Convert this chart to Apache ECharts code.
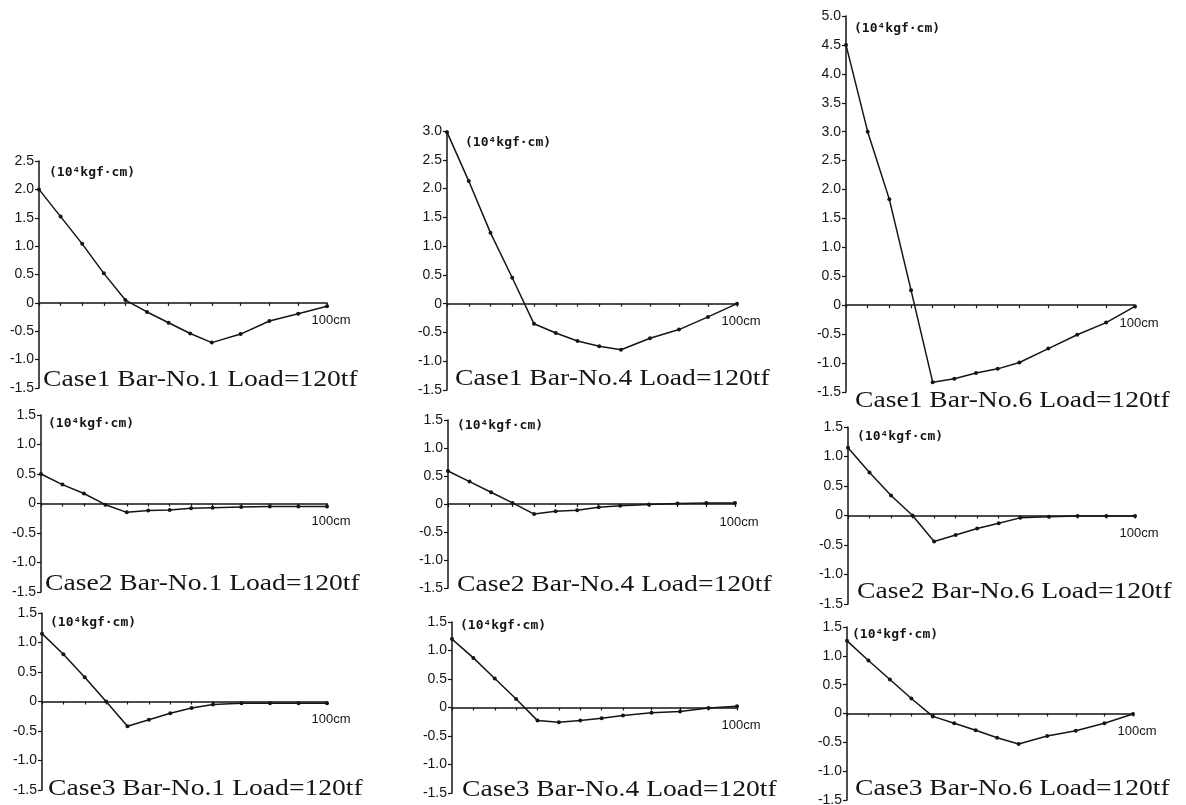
<!DOCTYPE html>
<html>
<head>
<meta charset="utf-8">
<script src="https://cdn.jsdelivr.net/npm/echarts@6/dist/echarts.min.js"></script>
<style>
  html, body { margin: 0; padding: 0; background: #fff; }
  #chart-container { width: 1186px; height: 805px; }
</style>
</head>
<body>
<div id="chart-container"></div>
<script>
// measuring points along the bar (cm)
var positions = [0, 7.5, 15, 22.5, 30, 37.5, 45, 52.5, 60, 70, 80, 90, 100];

// bending moment, 10^4 kgf.cm
var case1Bar1 = [2.0, 1.52, 1.04, 0.52, 0.05, -0.16, -0.35, -0.54, -0.70, -0.55, -0.32, -0.19, -0.06];
var case1Bar4 = [2.98, 2.13, 1.23, 0.45, -0.35, -0.51, -0.65, -0.74, -0.80, -0.60, -0.45, -0.23, 0.0];
var case1Bar6 = [4.5, 3.0, 1.83, 0.26, -1.33, -1.27, -1.17, -1.10, -0.99, -0.75, -0.51, -0.30, -0.02];
var case2Bar1 = [0.50, 0.32, 0.17, -0.02, -0.15, -0.12, -0.11, -0.08, -0.07, -0.06, -0.05, -0.05, -0.05];
var case2Bar4 = [0.59, 0.40, 0.21, 0.02, -0.18, -0.13, -0.11, -0.06, -0.03, -0.01, 0.01, 0.02, 0.02];
var case2Bar6 = [1.15, 0.73, 0.34, 0.0, -0.44, -0.33, -0.22, -0.13, -0.04, -0.02, -0.01, -0.01, -0.01];
var case3Bar1 = [1.15, 0.80, 0.41, 0.0, -0.42, -0.31, -0.20, -0.11, -0.05, -0.03, -0.03, -0.03, -0.03];
var case3Bar4 = [1.20, 0.87, 0.51, 0.15, -0.23, -0.26, -0.23, -0.19, -0.14, -0.09, -0.07, -0.01, 0.02];
var case3Bar6 = [1.26, 0.92, 0.59, 0.26, -0.05, -0.17, -0.29, -0.42, -0.53, -0.39, -0.30, -0.17, -0.01];

var allSeries = [case1Bar1, case1Bar4, case1Bar6, case2Bar1, case2Bar4, case2Bar6, case3Bar1, case3Bar4, case3Bar6];
var titles = [
  'Case1 Bar-No.1 Load=120tf', 'Case1 Bar-No.4 Load=120tf', 'Case1 Bar-No.6 Load=120tf',
  'Case2 Bar-No.1 Load=120tf', 'Case2 Bar-No.4 Load=120tf', 'Case2 Bar-No.6 Load=120tf',
  'Case3 Bar-No.1 Load=120tf', 'Case3 Bar-No.4 Load=120tf', 'Case3 Bar-No.6 Load=120tf'
];
var yMax = [2.5, 3.0, 5.0, 1.5, 1.5, 1.5, 1.5, 1.5, 1.5];
var yMin = -1.5;
var yStep = 0.5;
var unitText = '(10\u2074kgf\u00b7cm)';
var endText = '100cm';

// panel layout in pixels: plot box, unit label offset, caption start/baseline
var panels = [
  { l: 39,  r: 327,  t: 161, b: 388, unit: [10, 12], cap: [43, 388] },
  { l: 447, r: 737,  t: 131, b: 390, unit: [18, 12], cap: [455, 387] },
  { l: 846, r: 1135, t: 16,  b: 392, unit: [8, 13],  cap: [855, 409] },
  { l: 41,  r: 327,  t: 415, b: 592, unit: [7, 9],   cap: [45, 592] },
  { l: 448, r: 735,  t: 420, b: 588, unit: [9, 6],   cap: [457, 593] },
  { l: 848, r: 1135, t: 427, b: 604, unit: [9, 10],  cap: [857, 600] },
  { l: 42,  r: 327,  t: 613, b: 790, unit: [8, 10],  cap: [48, 797] },
  { l: 452, r: 737,  t: 622, b: 793, unit: [8, 4],   cap: [462, 798] },
  { l: 847, r: 1133, t: 627, b: 800, unit: [5, 8],   cap: [855, 797] }
];

var ink = '#151515';
var grids = [], xAxes = [], yAxes = [], series = [], graphics = [];

panels.forEach(function (p, i) {
  grids.push({
    left: p.l, top: p.t, width: p.r - p.l, height: p.b - p.t,
    containLabel: false, outerBoundsMode: 'none'
  });
  xAxes.push({
    type: 'value', gridIndex: i, min: 0, max: 100,
    axisLine: { onZero: true, lineStyle: { color: ink, width: 1.5 } },
    axisTick: { show: true, length: 3, customValues: positions, lineStyle: { color: ink, width: 1.2 } },
    axisLabel: { show: false },
    splitLine: { show: false }
  });
  yAxes.push({
    type: 'value', gridIndex: i, min: yMin, max: yMax[i], interval: yStep,
    axisLine: { show: true, onZero: false, lineStyle: { color: ink, width: 1.5 } },
    axisTick: { show: true, length: 4, lineStyle: { color: ink, width: 1.2 } },
    axisLabel: {
      color: ink, fontSize: 14, margin: 5, fontFamily: 'Liberation Sans',
      formatter: function (v) { return v === 0 ? '0' : v.toFixed(1); }
    },
    splitLine: { show: false }
  });
  series.push({
    type: 'line', xAxisIndex: i, yAxisIndex: i,
    data: positions.map(function (x, k) { return [x, allSeries[i][k]]; }),
    symbol: 'circle', symbolSize: 4, showSymbol: true,
    lineStyle: { color: ink, width: 1.5 },
    itemStyle: { color: ink },
    animation: false
  });
  graphics.push({
    type: 'text', x: p.l + p.unit[0], y: p.t + p.unit[1],
    style: {
      text: unitText, x: 0, y: 0, fill: ink,
      font: 'bold 13px "DejaVu Sans Mono"', textAlign: 'left', textVerticalAlign: 'middle'
    }
  });
  graphics.push({
    type: 'text', x: p.cap[0], y: p.cap[1] - 8, scaleX: 1.15,
    style: {
      text: titles[i], x: 0, y: 0, fill: ink,
      font: '24px "Liberation Serif"', textAlign: 'left', textVerticalAlign: 'middle'
    }
  });
});

var dom = document.getElementById('chart-container');
var myChart = echarts.init(dom, null, { renderer: 'canvas' });

var option = {
  backgroundColor: '#fff',
  animation: false,
  grid: grids,
  xAxis: xAxes,
  yAxis: yAxes,
  series: series,
  graphic: graphics
};

myChart.setOption(option);

// "100cm" sits just under the end of the zero line
panels.forEach(function (p, i) {
  var pt = myChart.convertToPixel({ gridIndex: i }, [100, 0]);
  graphics.push({
    type: 'text', x: pt[0] + 4, y: pt[1] + 18,
    style: {
      text: endText, x: 0, y: 0, fill: ink,
      font: '13px "Liberation Sans"', textAlign: 'center', textVerticalAlign: 'middle'
    }
  });
});
myChart.setOption({ graphic: graphics });

window.addEventListener('resize', myChart.resize);
</script>
</body>
</html>
